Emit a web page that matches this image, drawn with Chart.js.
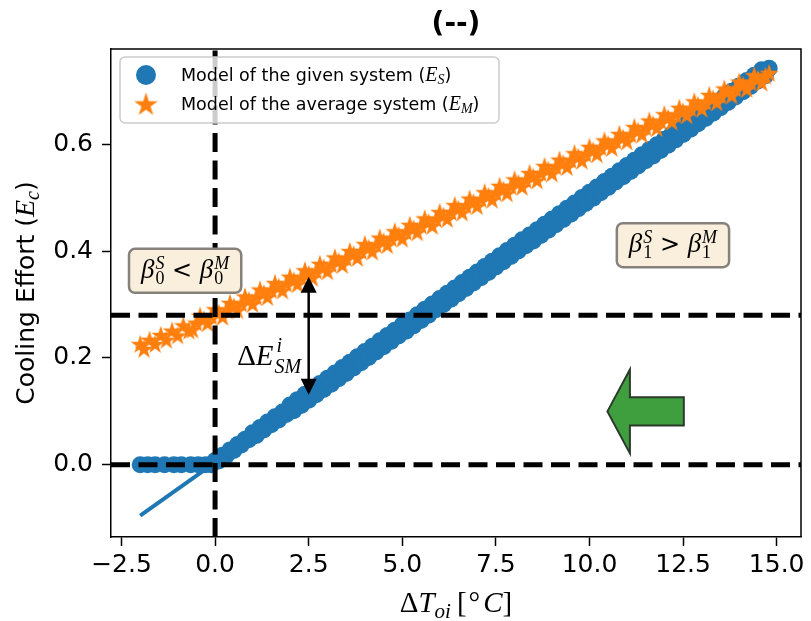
<!DOCTYPE html>
<html>
<head>
<meta charset="utf-8">
<script src="https://cdn.jsdelivr.net/npm/chart.js@4.4.1/dist/chart.umd.min.js"></script>
<style>
  html, body { margin: 0; padding: 0; background: #ffffff; }
  #wrap { width: 811px; height: 621px; position: relative; }
</style>
</head>
<body>
<div id="wrap"><canvas id="chart" width="811" height="621"></canvas></div>
<script>
// ---- data -------------------------------------------------------------
// Model of the given system (E_S): cooling effort samples
const givenX = [-2.0, -1.8, -1.6, -1.35, -1.1, -0.9, -0.65, -0.45, -0.25, -0.1,
  0.0, 0.1, 0.2, 0.3, 0.4, 0.5, 0.6, 0.7, 0.8, 0.9, 1.0, 1.1, 1.2, 1.3, 1.4, 1.5, 1.6, 1.7, 1.8, 1.9,
  2.0, 2.1, 2.2, 2.3, 2.4, 2.5, 2.6, 2.7, 2.8, 2.9, 3.0, 3.1, 3.2, 3.3, 3.4, 3.5, 3.6, 3.7, 3.8, 3.9,
  4.0, 4.1, 4.2, 4.3, 4.4, 4.5, 4.6, 4.7, 4.8, 4.9, 5.0, 5.1, 5.2, 5.3, 5.4, 5.5, 5.6, 5.7, 5.8, 5.9,
  6.0, 6.1, 6.2, 6.3, 6.4, 6.5, 6.6, 6.7, 6.8, 6.9, 7.0, 7.1, 7.2, 7.3, 7.4, 7.5, 7.6, 7.7, 7.8, 7.9,
  8.0, 8.1, 8.2, 8.3, 8.4, 8.5, 8.6, 8.7, 8.8, 8.9, 9.0, 9.1, 9.2, 9.3, 9.4, 9.5, 9.6, 9.7, 9.8, 9.9,
  10.0, 10.1, 10.2, 10.3, 10.4, 10.5, 10.6, 10.7, 10.8, 10.9, 11.0, 11.1, 11.2, 11.3, 11.4, 11.5, 11.6, 11.7, 11.8, 11.9,
  12.0, 12.1, 12.2, 12.3, 12.4, 12.5, 12.6, 12.7, 12.8, 12.9, 13.0, 13.1, 13.2, 13.3, 13.4, 13.5, 13.6, 13.7, 13.8, 13.9,
  14.0, 14.1, 14.2, 14.3, 14.4, 14.5, 14.6, 14.7, 14.8];
const givenY = [0, 0, 0, 0, 0, 0, 0, 0, 0, 0,
  0.008, 0.007, 0.018, 0.017, 0.028, 0.027, 0.038, 0.037, 0.048, 0.047,
  0.060, 0.055, 0.070, 0.065, 0.080, 0.075, 0.090, 0.084, 0.099, 0.094,
  0.112, 0.101, 0.122, 0.111, 0.132, 0.121, 0.142, 0.131, 0.152, 0.141,
  0.162, 0.151, 0.172, 0.161, 0.182, 0.171, 0.192, 0.181, 0.202, 0.191,
  0.212, 0.201, 0.222, 0.211, 0.232, 0.221, 0.242, 0.231, 0.252, 0.241,
  0.262, 0.250, 0.271, 0.260, 0.281, 0.270, 0.291, 0.280, 0.301, 0.290,
  0.311, 0.300, 0.321, 0.310, 0.331, 0.320, 0.341, 0.330, 0.351, 0.340,
  0.361, 0.350, 0.371, 0.360, 0.381, 0.370, 0.391, 0.380, 0.401, 0.390,
  0.411, 0.400, 0.421, 0.410, 0.430, 0.419, 0.440, 0.429, 0.450, 0.439,
  0.460, 0.449, 0.470, 0.459, 0.480, 0.469, 0.490, 0.479, 0.500, 0.489,
  0.510, 0.499, 0.520, 0.509, 0.530, 0.519, 0.540, 0.529, 0.550, 0.539,
  0.560, 0.549, 0.570, 0.559, 0.580, 0.569, 0.590, 0.578, 0.599, 0.588,
  0.609, 0.598, 0.619, 0.608, 0.629, 0.618, 0.639, 0.628, 0.649, 0.638,
  0.659, 0.648, 0.669, 0.658, 0.679, 0.668, 0.689, 0.678, 0.699, 0.688,
  0.709, 0.698, 0.719, 0.708, 0.729, 0.718, 0.739, 0.728, 0.742];

// straight-line fit of the given system
const fitX = [-2.0, 14.8];
const fitY = [-0.095, 0.740];

// Model of the average system (E_M)
const avgX = [-2.0, -1.9, -1.75, -1.6, -1.45, -1.3, -1.15, -1.0, -0.85, -0.7,
  -0.6, -0.5, -0.4, -0.3, -0.2, -0.1,
  0.0, 0.1, 0.2, 0.3, 0.4, 0.5, 0.6, 0.7, 0.8, 0.9, 1.0, 1.1, 1.2, 1.3, 1.4, 1.5, 1.6, 1.7, 1.8, 1.9,
  2.0, 2.1, 2.2, 2.3, 2.4, 2.5, 2.6, 2.7, 2.8, 2.9, 3.0, 3.1, 3.2, 3.3, 3.4, 3.5, 3.6, 3.7, 3.8, 3.9,
  4.0, 4.1, 4.2, 4.3, 4.4, 4.5, 4.6, 4.7, 4.8, 4.9, 5.0, 5.1, 5.2, 5.3, 5.4, 5.5, 5.6, 5.7, 5.8, 5.9,
  6.0, 6.1, 6.2, 6.3, 6.4, 6.5, 6.6, 6.7, 6.8, 6.9, 7.0, 7.1, 7.2, 7.3, 7.4, 7.5, 7.6, 7.7, 7.8, 7.9,
  8.0, 8.1, 8.2, 8.3, 8.4, 8.5, 8.6, 8.7, 8.8, 8.9, 9.0, 9.1, 9.2, 9.3, 9.4, 9.5, 9.6, 9.7, 9.8, 9.9,
  10.0, 10.1, 10.2, 10.3, 10.4, 10.5, 10.6, 10.7, 10.8, 10.9, 11.0, 11.1, 11.2, 11.3, 11.4, 11.5, 11.6, 11.7, 11.8, 11.9,
  12.0, 12.1, 12.2, 12.3, 12.4, 12.5, 12.6, 12.7, 12.8, 12.9, 13.0, 13.1, 13.2, 13.3, 13.4, 13.5, 13.6, 13.7, 13.8, 13.9,
  14.0, 14.1, 14.2, 14.3, 14.4, 14.5, 14.6, 14.7, 14.8];
const avgY = [0.226, 0.217, 0.234, 0.226, 0.243, 0.234, 0.251, 0.242, 0.261, 0.251,
  0.253, 0.266, 0.279, 0.272, 0.265, 0.278,
  0.291, 0.284, 0.277, 0.290, 0.303, 0.296, 0.289, 0.302, 0.315, 0.308,
  0.301, 0.314, 0.328, 0.321, 0.314, 0.327, 0.340, 0.333, 0.326, 0.339,
  0.352, 0.345, 0.338, 0.351, 0.364, 0.357, 0.350, 0.363, 0.376, 0.369,
  0.362, 0.375, 0.388, 0.381, 0.374, 0.387, 0.400, 0.394, 0.387, 0.400,
  0.413, 0.406, 0.399, 0.412, 0.425, 0.418, 0.411, 0.424, 0.437, 0.430,
  0.423, 0.436, 0.449, 0.442, 0.435, 0.448, 0.461, 0.454, 0.447, 0.460,
  0.473, 0.466, 0.460, 0.473, 0.486, 0.479, 0.472, 0.485, 0.498, 0.491,
  0.484, 0.497, 0.510, 0.503, 0.496, 0.509, 0.522, 0.515, 0.508, 0.521,
  0.534, 0.527, 0.520, 0.533, 0.546, 0.539, 0.532, 0.546, 0.559, 0.552,
  0.545, 0.558, 0.571, 0.564, 0.557, 0.570, 0.583, 0.576, 0.569, 0.582,
  0.595, 0.588, 0.581, 0.594, 0.607, 0.600, 0.593, 0.606, 0.619, 0.612,
  0.605, 0.618, 0.632, 0.625, 0.618, 0.631, 0.644, 0.637, 0.630, 0.643,
  0.656, 0.649, 0.642, 0.655, 0.668, 0.661, 0.654, 0.667, 0.680, 0.673,
  0.666, 0.679, 0.692, 0.685, 0.678, 0.691, 0.704, 0.698, 0.691, 0.704,
  0.717, 0.710, 0.703, 0.716, 0.729, 0.722, 0.715, 0.728, 0.733];

const xTicks = [-2.5, 0.0, 2.5, 5.0, 7.5, 10.0, 12.5, 15.0];
const yTicks = [0.0, 0.2, 0.4, 0.6];

// reference lines: origin and intercept of the average model
const refLineX = [0.0];
const refLineY = [0.0, 0.28];

// gap between the two models at ΔT = 2.5
const gapX = 2.5;
const gapYTop = 0.352;
const gapYBottom = 0.131;

// ---- styling ----------------------------------------------------------
const BLUE = '#1f77b4';
const ORANGE = '#ff7f0e';
const SANS = '"DejaVu Sans"';
const SERIF = '"Liberation Serif"';

function starImage(r, color) {
  const size = Math.ceil(2 * r + 2);
  const c = document.createElement('canvas');
  c.width = size; c.height = size;
  const g = c.getContext('2d');
  const cx = size / 2, cy = size / 2 + r * 0.08;
  g.beginPath();
  for (let i = 0; i < 10; i++) {
    const rr = i % 2 === 0 ? r : r * 0.382;
    const a = -Math.PI / 2 + i * Math.PI / 5;
    const px = cx + rr * Math.cos(a), py = cy + rr * Math.sin(a);
    if (i === 0) g.moveTo(px, py); else g.lineTo(px, py);
  }
  g.closePath();
  g.fillStyle = color;
  g.fill();
  return c;
}
const starPoint = starImage(10, ORANGE);

function tickFmt(v) {
  return (v < 0 ? '\u2212' : '') + Math.abs(v).toFixed(1);
}

// rich text: list of runs (plain or stacked super/sub)
function partsWidth(ctx, parts) {
  let w = 0;
  for (const p of parts) {
    if (p.stack) {
      let m = 0;
      for (const s of p.stack) { ctx.font = s.font; m = Math.max(m, ctx.measureText(s.text).width + (s.dx || 0)); }
      w += m + (p.gap || 0);
    } else {
      ctx.font = p.font;
      w += ctx.measureText(p.text).width + (p.gap || 0);
    }
  }
  return w;
}
function drawParts(ctx, parts, x, y) {
  let cx = x;
  ctx.textBaseline = 'alphabetic';
  ctx.textAlign = 'left';
  for (const p of parts) {
    if (p.stack) {
      let m = 0;
      for (const s of p.stack) {
        ctx.font = s.font;
        ctx.fillText(s.text, cx + (s.dx || 0), y + (s.dy || 0));
        m = Math.max(m, ctx.measureText(s.text).width + (s.dx || 0));
      }
      cx += m + (p.gap || 0);
    } else {
      ctx.font = p.font;
      ctx.fillText(p.text, cx, y + (p.dy || 0));
      cx += ctx.measureText(p.text).width + (p.gap || 0);
    }
  }
}
function roundRect(ctx, x, y, w, h, r) {
  ctx.beginPath();
  ctx.moveTo(x + r, y);
  ctx.lineTo(x + w - r, y);
  ctx.arcTo(x + w, y, x + w, y + r, r);
  ctx.lineTo(x + w, y + h - r);
  ctx.arcTo(x + w, y + h, x + w - r, y + h, r);
  ctx.lineTo(x + r, y + h);
  ctx.arcTo(x, y + h, x, y + h - r, r);
  ctx.lineTo(x, y + r);
  ctx.arcTo(x, y, x + r, y, r);
  ctx.closePath();
}

const betaFont = `italic 27px ${SERIF}`;
const idxFont = `italic 18px ${SERIF}`;
const numFont = `18px ${SERIF}`;
const interceptText = [
  { text: 'β', font: betaFont, gap: 1 },
  { stack: [{ text: 'S', font: idxFont, dy: -9 }, { text: '0', font: numFont, dy: 6 }] },
  { text: ' < ', font: `24px ${SANS}` },
  { text: 'β', font: betaFont, gap: 1 },
  { stack: [{ text: 'M', font: idxFont, dy: -9 }, { text: '0', font: numFont, dy: 6 }] }
];
const slopeText = [
  { text: 'β', font: betaFont, gap: 1 },
  { stack: [{ text: 'S', font: idxFont, dy: -9 }, { text: '1', font: numFont, dy: 6 }] },
  { text: ' > ', font: `24px ${SANS}` },
  { text: 'β', font: betaFont, gap: 1 },
  { stack: [{ text: 'M', font: idxFont, dy: -9 }, { text: '1', font: numFont, dy: 6 }] }
];
const gapText = [
  { text: 'Δ', font: `29px ${SERIF}` },
  { text: 'E', font: `italic 29px ${SERIF}`, gap: 1 },
  { stack: [{ text: 'i', font: `italic 20px ${SERIF}`, dy: -13, dx: 2 }, { text: 'SM', font: `italic 20px ${SERIF}`, dy: 8 }] }
];

// text-box anchors in data coordinates
const interceptBox = { x: -0.80, y: 0.363 };
const slopeBox = { x: 12.23, y: 0.411 };
const gapLabel = { x: 2.30, y: 0.205 };
// left-pointing block arrow in data coordinates
const bigArrow = { tail: 12.52, tip: 10.48, y: 0.100, shaft: 0.0265, head: 0.0785, headLen: 0.60 };

function textBox(ctx, parts, cx, cy) {
  const w = partsWidth(ctx, parts);
  const bw = w + 24, bh = 44;
  roundRect(ctx, cx - bw / 2, cy - bh / 2, bw, bh, 6);
  ctx.fillStyle = '#faefdc';
  ctx.fill();
  ctx.lineWidth = 2.5;
  ctx.strokeStyle = '#86817b';
  ctx.stroke();
  ctx.fillStyle = '#000';
  drawParts(ctx, parts, cx - w / 2, cy + 7);
}

const overlay = {
  id: 'overlay',
  afterDatasetsDraw(chart) {
    const { ctx, chartArea: a, scales: { x, y } } = chart;
    ctx.save();
    ctx.beginPath();
    ctx.rect(a.left, a.top, a.right - a.left, a.bottom - a.top);
    ctx.clip();

    // dashed reference lines
    ctx.strokeStyle = '#000';
    ctx.lineWidth = 5;
    ctx.lineCap = 'butt';
    ctx.setLineDash([19, 8.5]);
    refLineY.forEach(v => {
      const py = y.getPixelForValue(v);
      ctx.beginPath(); ctx.moveTo(a.left, py); ctx.lineTo(a.right, py); ctx.stroke();
    });
    refLineX.forEach(v => {
      const px = x.getPixelForValue(v);
      ctx.beginPath(); ctx.moveTo(px, a.bottom); ctx.lineTo(px, a.top); ctx.stroke();
    });
    ctx.setLineDash([]);

    // double-headed arrow between the two models
    const ax = x.getPixelForValue(gapX);
    const y1 = y.getPixelForValue(gapYTop), y2 = y.getPixelForValue(gapYBottom);
    const hl = 16, hw = 8;
    ctx.lineWidth = 2.5;
    ctx.beginPath(); ctx.moveTo(ax, y1 + hl - 2); ctx.lineTo(ax, y2 - hl + 2); ctx.stroke();
    ctx.fillStyle = '#000';
    ctx.beginPath(); ctx.moveTo(ax, y1); ctx.lineTo(ax - hw, y1 + hl); ctx.lineTo(ax + hw, y1 + hl); ctx.closePath(); ctx.fill();
    ctx.beginPath(); ctx.moveTo(ax, y2); ctx.lineTo(ax - hw, y2 - hl); ctx.lineTo(ax + hw, y2 - hl); ctx.closePath(); ctx.fill();

    // gap label
    const gw = partsWidth(ctx, gapText);
    ctx.fillStyle = '#000';
    drawParts(ctx, gapText, x.getPixelForValue(gapLabel.x) - gw, y.getPixelForValue(gapLabel.y) + 10);

    // green block arrow
    const tx = x.getPixelForValue(bigArrow.tail), tp = x.getPixelForValue(bigArrow.tip);
    const hb = x.getPixelForValue(bigArrow.tip + bigArrow.headLen);
    const cy = y.getPixelForValue(bigArrow.y);
    const sT = y.getPixelForValue(bigArrow.y + bigArrow.shaft), sB = y.getPixelForValue(bigArrow.y - bigArrow.shaft);
    const hT = y.getPixelForValue(bigArrow.y + bigArrow.head), hB = y.getPixelForValue(bigArrow.y - bigArrow.head);
    ctx.beginPath();
    ctx.moveTo(tp, cy); ctx.lineTo(hb, hT); ctx.lineTo(hb, sT); ctx.lineTo(tx, sT);
    ctx.lineTo(tx, sB); ctx.lineTo(hb, sB); ctx.lineTo(hb, hB); ctx.closePath();
    ctx.fillStyle = '#3f9f3f';
    ctx.fill();
    ctx.lineWidth = 2;
    ctx.strokeStyle = '#2b3a2b';
    ctx.stroke();

    // boxed annotations
    textBox(ctx, interceptText, x.getPixelForValue(interceptBox.x), y.getPixelForValue(interceptBox.y));
    textBox(ctx, slopeText, x.getPixelForValue(slopeBox.x), y.getPixelForValue(slopeBox.y));
    ctx.restore();
  },
  afterDraw(chart) {
    const { ctx, chartArea: a } = chart;
    ctx.save();
    // top and right spines
    ctx.strokeStyle = '#000';
    ctx.lineWidth = 1.5;
    ctx.beginPath();
    ctx.moveTo(a.left, a.top); ctx.lineTo(a.right, a.top); ctx.lineTo(a.right, a.bottom);
    ctx.stroke();

    // legend
    const lx = a.left + 9, ly = a.top + 8, lw = 379, lh = 66;
    roundRect(ctx, lx, ly, lw, lh, 5);
    ctx.fillStyle = 'rgba(255,255,255,0.8)';
    ctx.fill();
    ctx.lineWidth = 1.5;
    ctx.strokeStyle = '#cccccc';
    ctx.stroke();
    ctx.fillStyle = BLUE;
    ctx.beginPath(); ctx.arc(lx + 26, ly + 18, 10, 0, Math.PI * 2); ctx.fill();
    const legStar = starImage(12.5, ORANGE);
    ctx.drawImage(legStar, lx + 26 - legStar.width / 2, ly + 47 - legStar.height / 2);
    ctx.fillStyle = '#000';
    const lf = `17.5px ${SANS}`;
    drawParts(ctx, [
      { text: chart.data.datasets[1].label + ' (', font: lf },
      { text: 'E', font: `italic 20px ${SERIF}` },
      { text: 'S', font: `italic 14px ${SERIF}`, dy: 3 },
      { text: ')', font: lf }
    ], lx + 61, ly + 24);
    drawParts(ctx, [
      { text: chart.data.datasets[0].label + ' (', font: lf },
      { text: 'E', font: `italic 20px ${SERIF}` },
      { text: 'M', font: `italic 14px ${SERIF}`, dy: 3 },
      { text: ')', font: lf }
    ], lx + 61, ly + 53);

    // title
    ctx.font = `bold 28px ${SANS}`;
    ctx.textAlign = 'center';
    ctx.textBaseline = 'middle';
    ctx.fillText('(--)', (a.left + a.right) / 2, 25);

    // x-axis title
    const xt = [
      { text: 'Δ', font: `29px ${SERIF}` },
      { text: 'T', font: `italic 29px ${SERIF}` },
      { text: 'oi', font: `italic 21px ${SERIF}`, dy: 6, gap: 6 },
      { text: '[', font: `29px ${SERIF}`, gap: 2 },
      { text: '°', font: `29px ${SERIF}`, gap: 3 },
      { text: 'C', font: `italic 29px ${SERIF}` },
      { text: ']', font: `29px ${SERIF}` }
    ];
    const xw = partsWidth(ctx, xt);
    drawParts(ctx, xt, (a.left + a.right) / 2 - xw / 2, 612);

    // y-axis title
    const yt = [
      { text: 'Cooling Effort (', font: `25px ${SANS}` },
      { text: 'E', font: `italic 28px ${SERIF}` },
      { text: 'c', font: `italic 20px ${SERIF}`, dy: 5 },
      { text: ')', font: `25px ${SANS}` }
    ];
    const yw = partsWidth(ctx, yt);
    ctx.translate(34, (a.top + a.bottom) / 2);
    ctx.rotate(-Math.PI / 2);
    drawParts(ctx, yt, -yw / 2, 0);
    ctx.restore();
  }
};

const axisCommon = {
  type: 'linear',
  grid: { display: true, drawOnChartArea: false, drawTicks: true, tickLength: 9, tickWidth: 1.5, tickColor: '#000' },
  border: { display: true, color: '#000', width: 1.5 }
};

new Chart(document.getElementById('chart'), {
  type: 'scatter',
  data: {
    datasets: [
      {
        label: 'Model of the average system',
        data: avgX.map((v, i) => ({ x: v, y: avgY[i] })),
        pointStyle: starPoint,
        pointRadius: 10,
        backgroundColor: ORANGE,
        borderWidth: 0,
        order: 0
      },
      {
        label: 'Model of the given system',
        data: givenX.map((v, i) => ({ x: v, y: givenY[i] })),
        pointStyle: 'circle',
        pointRadius: 8.5,
        backgroundColor: BLUE,
        borderWidth: 0,
        order: 1
      },
      {
        type: 'line',
        label: 'fit',
        data: fitX.map((v, i) => ({ x: v, y: fitY[i] })),
        borderColor: BLUE,
        borderWidth: 4,
        pointRadius: 0,
        fill: false,
        showLine: true,
        order: 2
      }
    ]
  },
  options: {
    responsive: false,
    animation: false,
    devicePixelRatio: 1,
    layout: { padding: { top: 49, right: 6, left: 0, bottom: 0 } },
    plugins: { legend: { display: false }, tooltip: { enabled: false }, title: { display: false } },
    scales: {
      x: Object.assign({}, axisCommon, {
        min: -2.78, max: 15.65,
        afterBuildTicks: s => { s.ticks = xTicks.map(v => ({ value: v })); },
        afterFit: s => { s.height = 84; },
        ticks: { font: { family: 'DejaVu Sans', size: 25 }, color: '#000', padding: 4, maxRotation: 0, autoSkip: false, callback: tickFmt }
      }),
      y: Object.assign({}, axisCommon, {
        min: -0.135, max: 0.778,
        afterBuildTicks: s => { s.ticks = yTicks.map(v => ({ value: v })); },
        afterFit: s => { s.width = 111; },
        ticks: { font: { family: 'DejaVu Sans', size: 25 }, color: '#000', padding: 9, autoSkip: false, callback: tickFmt }
      })
    }
  },
  plugins: [overlay]
});
</script>
</body>
</html>
